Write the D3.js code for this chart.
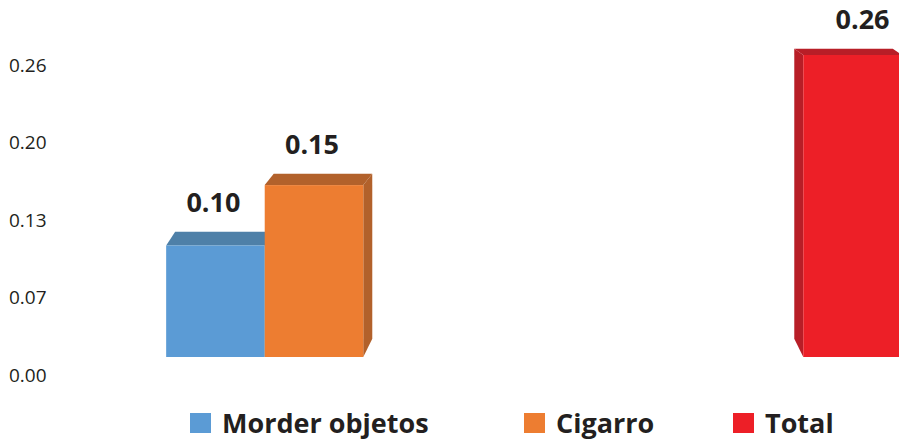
<!DOCTYPE html>
<html>
<head>
<meta charset="utf-8">
<script src="https://cdn.jsdelivr.net/npm/d3@7"></script>
<style>
  html, body { margin: 0; padding: 0; background: #fff; }
  svg { display: block; }
</style>
</head>
<body>
<div id="chart"></div>
<script>
// ---- data ----
const categories = ["Grupo", "Total"];
const series = ["Morder objetos", "Cigarro", "Total"];
const seriesValues = {
  "Morder objetos": [0.096, null],
  "Cigarro": [0.148, null],
  "Total": [null, 0.26]
};
const tickValues = [0, 0.065, 0.13, 0.195, 0.26];
const tickLabels = ["0.00", "0.07", "0.13", "0.20", "0.26"];
const frontColors = ["#5B9BD5", "#ED7D31", "#ED1F27"];
const darkColors  = ["#4E80A8", "#B2612B", "#B81E27"];

// ---- layout ----
const W = 899, H = 441;
const svg = d3.select("#chart").append("svg").attr("width", W).attr("height", H);

const x0 = d3.scaleBand().domain(categories).range([94, 974])
  .paddingInner(0.328).paddingOuter(0.164);
const x1 = d3.scaleBand().domain(series).range([0, x0.bandwidth()]).padding(0);

// back wall scale (axis labels) and front plane scale (bars)
const yAxisScale = d3.scaleLinear().domain([0, 0.26]).range([375, 65]);
const yFront = d3.scaleLinear().domain([0, 0.26]).range([357, 55]);

// depth offsets (pseudo perspective)
const depthDy = y => -(4 + 0.04 * y);
const depthDx = cx => (cx < W * 0.62 ? 9 : -9);

// ---- axis labels ----
const axis = d3.axisLeft(yAxisScale).tickValues(tickValues)
  .tickFormat((d, i) => tickLabels[i]).tickSize(0).tickPadding(0);
const axG = svg.append("g").attr("transform", "translate(9,0)").call(axis);
axG.select(".domain").remove();
axG.selectAll("text")
  .attr("text-anchor", "start")
  .attr("font-family", "'Open Sans', sans-serif")
  .attr("font-size", 19)
  .attr("fill", "#231F20");

// ---- bars ----
const bars = [];
categories.forEach((c, ci) => {
  series.forEach((s, si) => {
    const v = seriesValues[s][ci];
    if (v == null) return;
    bars.push({ c, s, si, v });
  });
});

const barG = svg.append("g");
bars.forEach(b => {
  const xa = x0(b.c) + x1(b.s);
  const xb = xa + x1.bandwidth();
  const yT = yFront(b.v), yB = yFront(0);
  const dx = depthDx((xa + xb) / 2);
  const dyT = depthDy(yT), dyB = depthDy(yB);
  const g = barG.append("g");
  // side face
  const sx = dx > 0 ? xb : xa;
  g.append("polygon")
    .attr("points", [[sx, yT], [sx + dx, yT + dyT], [sx + dx, yB + dyB], [sx, yB]].map(p => p.join(",")).join(" "))
    .attr("fill", darkColors[b.si]);
  // top face
  g.append("polygon")
    .attr("points", [[xa, yT], [xb, yT], [xb + dx, yT + dyT], [xa + dx, yT + dyT]].map(p => p.join(",")).join(" "))
    .attr("fill", darkColors[b.si]);
  // front face
  g.append("rect")
    .attr("x", xa).attr("y", yT).attr("width", xb - xa).attr("height", yB - yT)
    .attr("fill", frontColors[b.si]);
  // value label
  g.append("text")
    .attr("x", (xa + xb) / 2 + (dx < 0 ? 10 : -2))
    .attr("y", yT + dyT - 20)
    .attr("text-anchor", "middle")
    .attr("font-family", "'Open Sans', sans-serif")
    .attr("font-weight", "bold")
    .attr("font-size", 27)
    .attr("fill", "#231F20")
    .text(b.v.toFixed(2));
});

// ---- legend ----
const legendX = [190, 524, 733];
const leg = svg.append("g");
series.forEach((s, i) => {
  leg.append("rect").attr("x", legendX[i]).attr("y", 413).attr("width", 21).attr("height", 20)
    .attr("fill", frontColors[i]);
  leg.append("text").attr("x", legendX[i] + 32).attr("y", 433)
    .attr("font-family", "'Open Sans', sans-serif")
    .attr("font-weight", "bold")
    .attr("font-size", 27)
    .attr("fill", "#231F20")
    .text(s);
});
</script>
</body>
</html>
